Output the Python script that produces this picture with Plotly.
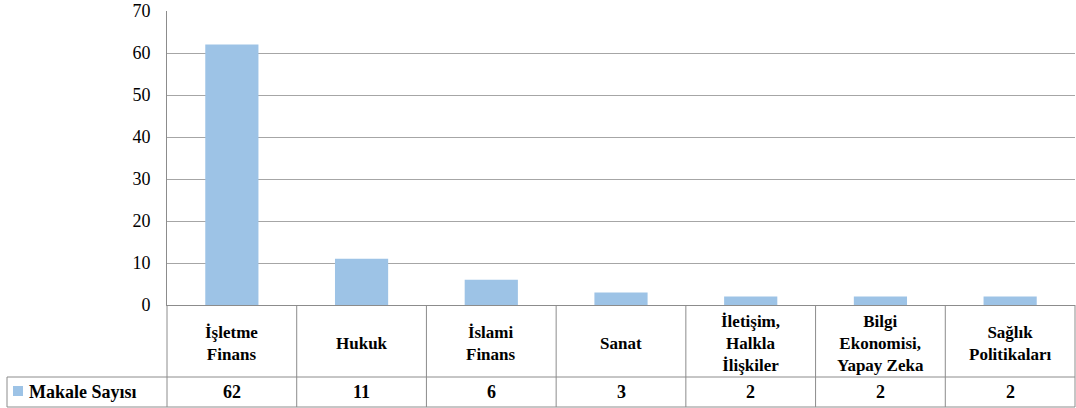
import plotly.graph_objects as go

categories = ["İşletme Finans", "Hukuk", "İslami Finans", "Sanat",
              "İletişim, Halkla İlişkiler", "Bilgi Ekonomisi, Yapay Zeka",
              "Sağlık Politikaları"]
header_labels = ["İşletme<br>Finans", "Hukuk", "İslami<br>Finans", "Sanat",
                 "İletişim,<br>Halkla<br>İlişkiler", "Bilgi<br>Ekonomisi,<br>Yapay Zeka",
                 "Sağlık<br>Politikaları"]
values = [62, 11, 6, 3, 2, 2, 2]
series_name = "Makale Sayısı"
y_ticks = [0, 10, 20, 30, 40, 50, 60, 70]

W, H = 1076, 408
L, R, T, B = 167, 1, 11, 408 - 305
PW = W - L - R
PH = H - T - B
BAR = "#9DC3E6"
LINE = "#8c8c8c"
SERIF = "Liberation Serif"

def py(p):  # pixel y -> paper y
    return (H - B - p) / PH

def px(p):  # pixel x -> paper x
    return (p - L) / PW

fig = go.Figure()
fig.add_trace(go.Bar(x=categories, y=values, marker=dict(color=BAR, line=dict(width=0)),
                     name=series_name, showlegend=False, hoverinfo="skip"))

n = len(categories)
shapes = []
row1_top, row2_top, row2_bot = py(305), py(377), py(407)
shapes.append(dict(type="line", xref="paper", yref="paper", x0=px(7), x1=1,
                   y0=row2_top, y1=row2_top, line=dict(color=LINE, width=1)))
shapes.append(dict(type="line", xref="paper", yref="paper", x0=px(7), x1=1,
                   y0=row2_bot, y1=row2_bot, line=dict(color=LINE, width=1)))
for i in range(n + 1):
    shapes.append(dict(type="line", xref="x domain", yref="paper", x0=i / n, x1=i / n,
                       y0=row1_top, y1=row2_bot, line=dict(color=LINE, width=1)))
shapes.append(dict(type="line", xref="paper", yref="paper", x0=px(7), x1=px(7),
                   y0=row2_top, y1=row2_bot, line=dict(color=LINE, width=1)))
shapes.append(dict(type="rect", xref="paper", yref="paper", x0=px(13), x1=px(23),
                   y0=py(396), y1=py(386), fillcolor=BAR, line=dict(width=0)))

annotations = []
for c, lab, v in zip(categories, header_labels, values):
    annotations.append(dict(x=c, xref="x", y=py(343), yref="paper", text=f"<b>{lab}</b>",
                            showarrow=False, xanchor="center", yanchor="middle",
                            font=dict(family=SERIF, size=17, color="#000")))
    annotations.append(dict(x=c, xref="x", y=py(392), yref="paper", text=f"<b>{v}</b>",
                            showarrow=False, xanchor="center", yanchor="middle",
                            font=dict(family=SERIF, size=18, color="#000")))
annotations.append(dict(x=px(27), xref="paper", y=py(392), yref="paper",
                        text=f"<b>{series_name}</b>", showarrow=False,
                        xanchor="left", yanchor="middle",
                        font=dict(family=SERIF, size=18, color="#000")))

fig.update_layout(
    width=W, height=H,
    margin=dict(l=L, r=R, t=T, b=B, pad=0),
    paper_bgcolor="white", plot_bgcolor="white",
    bargap=0.59,
    shapes=shapes, annotations=annotations,
    xaxis=dict(type="category", range=[-0.5, n - 0.5], showticklabels=False,
               showgrid=False, zeroline=False, showline=True, linecolor=LINE,
               linewidth=1, ticks=""),
    yaxis=dict(range=[0, 70], tickvals=y_ticks, showgrid=True, gridcolor="#a6a6a6",
               gridwidth=1, zeroline=False, showline=True, linecolor=LINE,
               linewidth=1, ticks="", ticklabelstandoff=12,
               tickfont=dict(family=SERIF, size=18, color="#000")),
)

fig.write_html("out.html", config={"displayModeBar": False},
               post_script="document.body.style.margin='0';")
